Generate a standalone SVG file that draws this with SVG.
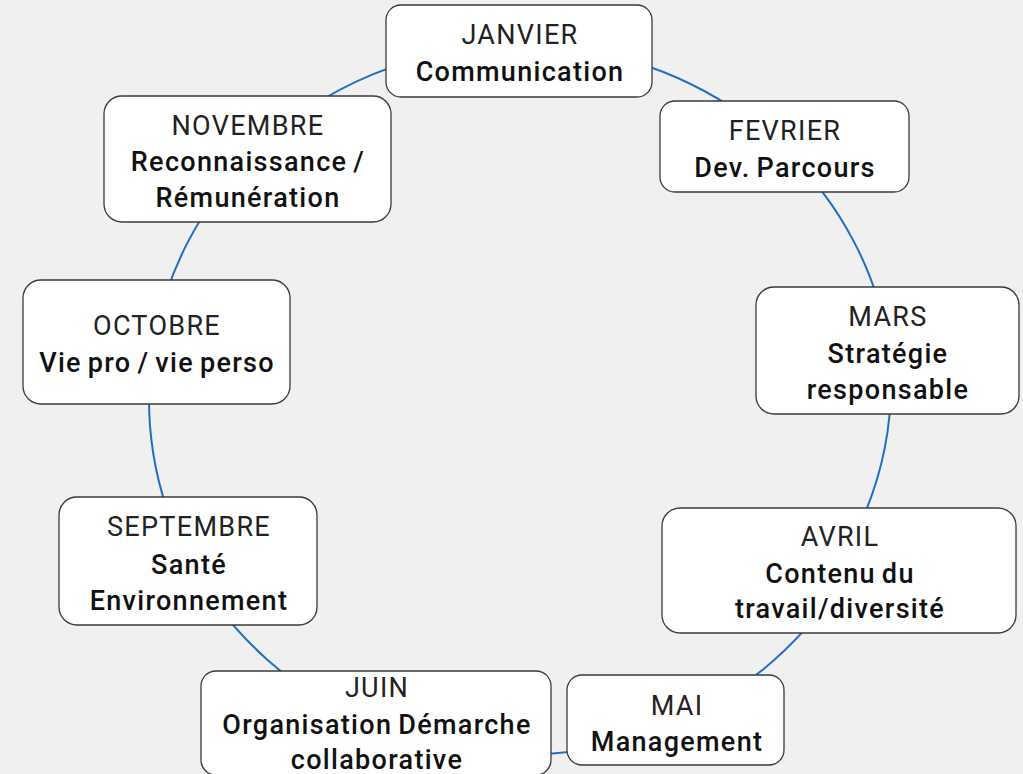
<svg xmlns="http://www.w3.org/2000/svg" width="1023" height="774" viewBox="0 0 1023 774">
<style>
.bg{fill:#f0f0f0}
.node rect{fill:#ffffff;stroke:#3a3a3a;stroke-width:1.3}
.m{font-family:Roboto,"Liberation Sans",sans-serif;font-size:27px;font-weight:400;fill:#222;text-anchor:middle;letter-spacing:1.3px;word-spacing:-2px}
.s{font-family:Roboto,"Liberation Sans",sans-serif;font-size:27px;font-weight:500;fill:#111;text-anchor:middle;letter-spacing:1.3px;word-spacing:-2px}
.conn path{fill:none;stroke:#1f6fc8;stroke-width:2}
</style>
<rect class="bg" x="0" y="0" width="1023" height="774"/>
<g id="connectors" class="conn">
<path d="M521,45 A372,355 0 0 1 784,149"/>
<path d="M784,149 A372,355 0 0 1 889.4,350.6"/>
<path d="M889.4,350.6 A372,355 0 0 1 862,520"/>
<path d="M846.4,572.1 A372,355 0 0 1 678.2,721.7"/>
<path d="M678.2,721.7 A372,355 0 0 1 375.7,726.8"/>
<path d="M375.7,726.8 A372,355 0 0 1 189.5,561.2"/>
<path d="M189.5,561.2 A372,355 0 0 1 154.7,338.4"/>
<path d="M154.7,338.4 A372,355 0 0 1 248.9,157.9"/>
<path d="M248.9,157.9 A372,355 0 0 1 521,45"/>
</g>
<g id="janvier" class="node"><rect x="386" y="5" width="266" height="92" rx="15"/>
<text class="m" x="520" y="44">JANVIER</text><text class="s" x="520" y="81">Communication</text></g>
<g id="fevrier" class="node"><rect x="660" y="101" width="249" height="91" rx="15"/>
<text class="m" x="785" y="140">FEVRIER</text><text class="s" x="785" y="177">Dev. Parcours</text></g>
<g id="mars" class="node"><rect x="756" y="287" width="263" height="127" rx="18"/>
<text class="m" x="888" y="326">MARS</text><text class="s" x="888" y="363">Stratégie</text><text class="s" x="888" y="399">responsable</text></g>
<g id="avril" class="node"><rect x="662" y="508" width="354" height="125" rx="18"/>
<text class="m" x="840" y="546">AVRIL</text><text class="s" x="840" y="583">Contenu du</text><text class="s" x="840" y="618">travail/diversité</text></g>
<g id="mai" class="node"><rect x="567" y="675" width="217" height="90" rx="15"/>
<text class="m" x="677" y="715">MAI</text><text class="s" x="677" y="751">Management</text></g>
<g id="juin" class="node"><rect x="201" y="671" width="350" height="104" rx="15"/>
<text class="m" x="377" y="697">JUIN</text><text class="s" x="377" y="734">Organisation Démarche</text><text class="s" x="377" y="769">collaborative</text></g>
<g id="septembre" class="node"><rect x="59" y="497" width="258" height="128" rx="18"/>
<text class="m" x="189" y="536">SEPTEMBRE</text><text class="s" x="189" y="574">Santé</text><text class="s" x="189" y="610">Environnement</text></g>
<g id="octobre" class="node"><rect x="23" y="280" width="267" height="124" rx="18"/>
<text class="m" x="157" y="335">OCTOBRE</text><text class="s" x="157" y="372">Vie pro / vie perso</text></g>
<g id="novembre" class="node"><rect x="104" y="96" width="287" height="126" rx="18"/>
<text class="m" x="248" y="135">NOVEMBRE</text><text class="s" x="248" y="171">Reconnaissance /</text><text class="s" x="248" y="207">Rémunération</text></g>
</svg>
